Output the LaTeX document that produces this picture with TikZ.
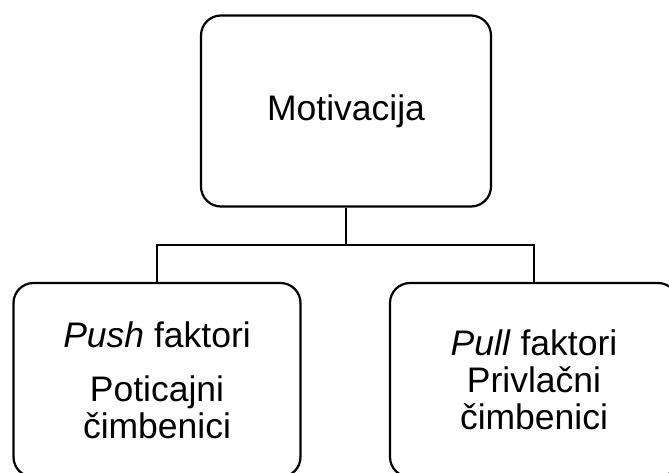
\documentclass[tikz,border=0pt]{standalone}
\usepackage{fontspec}
\setmainfont{Liberation Sans}

\begin{document}
\begin{tikzpicture}[x=1pt, y=-1pt]
\tikzset{boite/.style={draw, line width=2.2pt, rounded corners=20pt, align=center, font=\fontsize{35.5}{37}\selectfont}}
\clip (0, 0) rectangle (669, 472);
\useasboundingbox (0, 0) rectangle (669, 472);
\node[boite, minimum width=290pt, minimum height=191pt] (M) at (346, 111) {Motivacija};
\node[boite, minimum width=287pt, minimum height=194pt] (F1) at (157, 380) {\textit{Push} faktori\\[17pt]Poticajni\\čimbenici};
\node[boite, minimum width=288pt, minimum height=194pt] (F2) at (534, 380) {\textit{Pull} faktori\\Privlačni\\čimbenici};
\draw[line width=2.2pt] (M.south) -- ++(0, 37) coordinate (C);
\draw[line width=2.2pt] (C) -| (F1.north);
\draw[line width=2.2pt] (C) -| (F2.north);
\end{tikzpicture}
\end{document}
